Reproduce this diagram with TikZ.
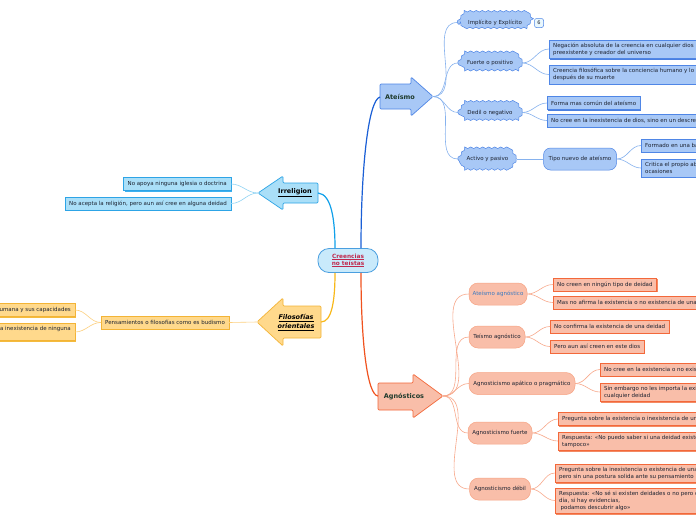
\documentclass[tikz,border=0pt]{standalone}
\usepackage{fontspec}
\setmainfont{DejaVu Sans}
\usetikzlibrary{shadows,backgrounds,decorations.pathmorphing,calc}
\definecolor{tdark}{HTML}{1C2230}
\definecolor{mgreen}{HTML}{1E3A2C}
\definecolor{cFill}{HTML}{C9EAFB}
\definecolor{cBorder}{HTML}{4A9FE0}
\definecolor{cText}{HTML}{C0294D}
\definecolor{aLine}{HTML}{1A5FD6}
\definecolor{aFill}{HTML}{A8C8F6}
\definecolor{aBorder}{HTML}{4F86E6}
\definecolor{aShadow}{HTML}{4A7FE0}
\definecolor{aSub}{HTML}{86B2EE}
\definecolor{iLine}{HTML}{10A0EA}
\definecolor{iFill}{HTML}{AADFF8}
\definecolor{iBorder}{HTML}{2DA4E6}
\definecolor{iShadow}{HTML}{3CB0EF}
\definecolor{iSub}{HTML}{8FD3F4}
\definecolor{fLine}{HTML}{F8B818}
\definecolor{fFill}{HTML}{FFD98C}
\definecolor{fBorder}{HTML}{F3B436}
\definecolor{fShadow}{HTML}{F4BB3E}
\definecolor{fSub}{HTML}{FDD080}
\definecolor{gLine}{HTML}{F0521E}
\definecolor{gFill}{HTML}{F9BEA9}
\definecolor{gBorder}{HTML}{F3683A}
\definecolor{gShadow}{HTML}{F38A63}
\definecolor{gSub}{HTML}{F8A98C}
\definecolor{gEll}{HTML}{F7A484}
\definecolor{agText}{HTML}{3A7AC0}
\pgfdeclarelayer{paper}
\pgfsetlayers{paper,background,main}
\newcommand\wavybg[1]{\draw[wavyshape] (#1.west) -- ([xshift=6pt]#1.north west) -- ([xshift=-6pt]#1.north east) -- (#1.east) -- ([xshift=-6pt]#1.south east) -- ([xshift=6pt]#1.south west) -- cycle;}
\begin{document}
\begin{tikzpicture}[x=1pt,y=-1pt,
  txt/.style={font=\fontsize{5.5}{7}\selectfont, text=tdark},
  box/.style={txt, align=left, inner xsep=4pt, inner ysep=3pt, minimum height=13pt, line width=0.4pt},
  abox/.style={box, fill=aFill, draw=aBorder, drop shadow={shadow xshift=1.2pt, shadow yshift=-1.4pt, opacity=1, fill=aShadow}},
  ibox/.style={box, fill=iFill, draw=iBorder, drop shadow={shadow xshift=1.2pt, shadow yshift=-1.4pt, opacity=1, fill=iShadow}},
  fbox/.style={box, fill=fFill, draw=fBorder, drop shadow={shadow xshift=1.2pt, shadow yshift=-1.4pt, opacity=1, fill=fShadow}},
  gbox/.style={box, fill=gFill, draw=gBorder, drop shadow={shadow xshift=1.2pt, shadow yshift=-1.4pt, opacity=1, fill=gShadow}},
  wav/.style={txt, inner sep=0pt, minimum height=18pt},
  wavyshape/.style={fill=aFill, draw=aBorder, line width=0.5pt, decorate, decoration={snake, amplitude=0.8pt, segment length=6pt}},
  ell/.style={txt, fill=gFill, draw=gEll, line width=0.5pt, rounded corners=9pt, minimum height=22pt, inner sep=0pt},
  mainlbl/.style={font=\fontsize{6.5}{8}\selectfont\bfseries, text=mgreen, align=center},
  mainln/.style={line width=1.2pt},
  sub/.style={line width=0.6pt},
  arrowshape/.style={line width=0.7pt, rounded corners=1.2pt},
]
\useasboundingbox (0,0) rectangle (696,520);
\begin{pgfonlayer}{paper}
\fill[white] (0,0) rectangle (696,520);
\end{pgfonlayer}
\clip (0,0) rectangle (696,520);

% central node
\node[fill=cFill, draw=cBorder, line width=0.8pt, rounded corners=11pt, minimum width=60pt, minimum height=24pt, inner sep=1pt, align=center, font=\fontsize{5.8}{7}\selectfont\bfseries, text=cText] (c) at (348,260.5) {\underline{Creencias}\\\underline{no teístas}};

% ---- Ateismo arrow
\draw[arrowshape, fill=aFill, draw=aBorder] (380,84) -- (411,84) -- (411,77) -- (433,96.5) -- (411,116) -- (411,109) -- (380,109) -- cycle;
\node[mainlbl] (ate) at (400,97) {Ateísmo};
\coordinate (ateL) at (380,97);
\coordinate (ateT) at (433,96.5);

% ---- Irreligion arrow
\draw[arrowshape, fill=iFill, draw=iBorder] (318,183) -- (283,183) -- (283,176) -- (258,193) -- (283,210) -- (283,203) -- (318,203) -- cycle;
\node[mainlbl, text=black] (irr) at (295,193) {\underline{Irreligion}};
\coordinate (irrR) at (318,193);
\coordinate (irrT) at (258,193);

% ---- Filosofias arrow
\draw[arrowshape, fill=fFill, draw=fBorder] (321,306) -- (283,306) -- (283,298) -- (257,322) -- (283,346) -- (283,338) -- (321,338) -- cycle;
\node[mainlbl, text=black, font=\fontsize{6.5}{8.5}\selectfont\bfseries\itshape] (fil) at (296,322.5) {\underline{Filosofías}\\\underline{orientales}};
\coordinate (filR) at (321,322);
\coordinate (filT) at (257,322);

% ---- Agnosticos arrow
\draw[arrowshape, fill=gFill, draw=gBorder] (378,383) -- (413,383) -- (413,374) -- (443,396) -- (413,418) -- (413,410) -- (378,410) -- cycle;
\node[mainlbl] (agn) at (404,397) {Agnósticos};
\coordinate (agnL) at (378,396);
\coordinate (agnT) at (443,396);

% main connectors
\draw[mainln, aLine] ([xshift=13pt]c.north) .. controls (361,170) and (368,100) .. (ateL);
\draw[mainln, iLine] ([xshift=-13pt]c.north) .. controls (335,222) and (332,194) .. (irrR);
\draw[mainln, fLine] ([xshift=-13pt]c.south) .. controls (335,300) and (332,322) .. (filR);
\draw[mainln, gLine] ([xshift=13pt]c.south) .. controls (361,340) and (367,395) .. (agnL);

% ---- Ateismo children
\node[wav, minimum width=75pt] (imp) at (495,22.5) {Implícito y Explícito};
\node[wav, minimum width=64pt] (fue) at (490,63) {Fuerte o positivo};
\node[wav, minimum width=64pt] (ded) at (490,112.5) {Dedil o negativo};
\node[wav, minimum width=59pt] (act) at (487.5,159) {Activo y pasivo};
\begin{scope}[on background layer]
\wavybg{imp}\wavybg{fue}\wavybg{ded}\wavybg{act}
\end{scope}
\node[fill=cFill!40, draw=aBorder, line width=0.5pt, rounded corners=2pt, inner sep=0pt, minimum width=9pt, minimum height=9pt, font=\fontsize{5}{5}\selectfont, text=tdark] (six) at (539,23) {6};

\node[abox, anchor=west] (neg1) at (549,49) {Negación absoluta de la creencia en cualquier dios\\preexistente y creador del universo};
\node[abox, anchor=west] (neg2) at (549,74.5) {Creencia filosófica sobre la conciencia humano y lo que sucede\\después de su muerte};
\node[abox, anchor=west] (forma) at (547,103) {Forma mas común del ateísmo};
\node[abox, anchor=west] (nocree) at (547,120.5) {No cree en la inexistencia de dios, sino en un descreimiento};
\node[txt, fill=aFill, draw=aBorder, line width=0.5pt, rounded corners=7pt, minimum width=73pt, minimum height=22pt, inner sep=0pt] (tipo) at (580,159) {Tipo nuevo de ateísmo};
\node[abox, anchor=west] (formado) at (641,145.5) {Formado en una base filosófica};
\node[abox, anchor=west] (critica) at (641,168) {Critica el propio abuso de la religión en algunas\\ocasiones};

\foreach \n in {imp,fue,ded,act} \draw[sub, aSub] (ateT) to[out=0,in=180] (\n.west);
\draw[sub, aSub] (fue.east) to[out=0,in=180] (neg1.west);
\draw[sub, aSub] (fue.east) to[out=0,in=180] (neg2.west);
\draw[sub, aSub] (ded.east) to[out=0,in=180] (forma.west);
\draw[sub, aSub] (ded.east) to[out=0,in=180] (nocree.west);
\draw[sub, aSub] (act.east) -- (tipo.west);
\draw[sub, aSub] (tipo.east) to[out=0,in=180] (formado.west);
\draw[sub, aSub] (tipo.east) to[out=0,in=180] (critica.west);

% ---- Irreligion children
\node[ibox, anchor=east] (noapoya) at (231,184) {No apoya ninguna iglesia o doctrina};
\node[ibox, anchor=east] (noacepta) at (231,203.5) {No acepta la religión, pero aun así cree en alguna deidad};
\draw[sub, iSub] (irrT) to[out=180,in=0] (noapoya.east);
\draw[sub, iSub] (irrT) to[out=180,in=0] (noacepta.east);

% ---- Filosofias children
\node[fbox, anchor=west] (pens) at (101,322.5) {Pensamientos o filosofías como es budismo};
\node[fbox, anchor=east] (hum) at (75,310) {Confían en la naturaleza humana y sus capacidades};
\node[fbox, anchor=east] (inex) at (75,332) {Creen en la inexistencia de ninguna\\deidad};
\draw[sub, fSub] (filT) -- (pens.east);
\draw[sub, fSub] (pens.west) to[out=180,in=0] (hum.east);
\draw[sub, fSub] (pens.west) to[out=180,in=0] (inex.east);

% ---- Agnosticos children
\node[ell, minimum width=58pt, text=agText] (atag) at (498,294) {Ateísmo agnóstico};
\node[ell, minimum width=56pt] (teag) at (497,337) {Teísmo agnóstico};
\node[ell, minimum width=106pt] (apat) at (522,383.5) {Agnosticismo apático o pragmático};
\node[ell, minimum width=64pt] (fuer) at (500,433) {Agnosticismo fuerte};
\node[ell, minimum width=61pt] (deb) at (500,489) {Agnosticismo débil};

\node[gbox, anchor=west] (ag1) at (553,284.5) {No creen en ningún tipo de deidad};
\node[gbox, anchor=west] (ag2) at (553,302.5) {Mas no afirma la existencia o no existencia de una deidad};
\node[gbox, anchor=west] (te1) at (550,326.5) {No confirma la existencia de una deidad};
\node[gbox, anchor=west] (te2) at (550,346.5) {Pero aun así creen en este dios};
\node[gbox, anchor=west] (ap1) at (600,369.5) {No cree en la existencia o no existencia de una deidad};
\node[gbox, anchor=west] (ap2) at (600,392) {Sin embargo no les importa la existencia de\\cualquier deidad};
\node[gbox, anchor=west] (fu1) at (558,419) {Pregunta sobre la existencia o inexistencia de una deidad};
\node[gbox, anchor=west] (fu2) at (558,441) {Respuesta: «No puedo saber si una deidad existe o no, y tú\\tampoco»};
\node[gbox, anchor=west] (de1) at (555,473) {Pregunta sobre la inexistencia o existencia de una deidad\\pero sin una postura solida ante su pensamiento};
\node[gbox, anchor=west] (de2) at (555,500.5) {Respuesta: «No sé si existen deidades o no pero quizás algún\\día, si hay evidencias,\\\hspace{1.5pt}podamos descubrir algo»};

\foreach \n in {atag,teag,apat,fuer,deb} \draw[sub, gSub] (agnT) to[out=0,in=180] (\n.west);
\draw[sub, gSub] (atag.east) to[out=0,in=180] (ag1.west);
\draw[sub, gSub] (atag.east) to[out=0,in=180] (ag2.west);
\draw[sub, gSub] (teag.east) to[out=0,in=180] (te1.west);
\draw[sub, gSub] (teag.east) to[out=0,in=180] (te2.west);
\draw[sub, gSub] (apat.east) to[out=0,in=180] (ap1.west);
\draw[sub, gSub] (apat.east) to[out=0,in=180] (ap2.west);
\draw[sub, gSub] (fuer.east) to[out=0,in=180] (fu1.west);
\draw[sub, gSub] (fuer.east) to[out=0,in=180] (fu2.west);
\draw[sub, gSub] (deb.east) to[out=0,in=180] (de1.west);
\draw[sub, gSub] (deb.east) to[out=0,in=180] (de2.west);
\end{tikzpicture}
\end{document}
